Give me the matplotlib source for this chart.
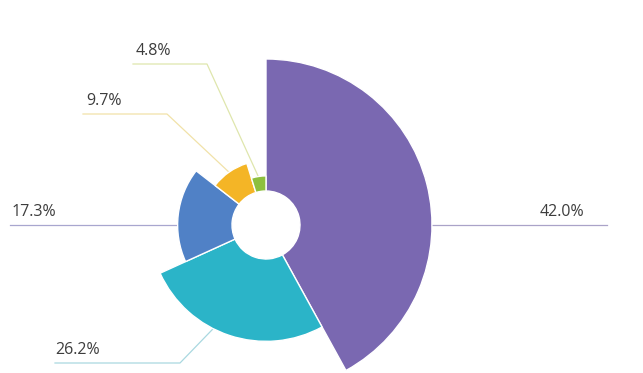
import numpy as np
import matplotlib.pyplot as plt
from matplotlib.patches import Wedge

labels = ['42.0%', '26.2%', '17.3%', '9.7%', '4.8%']
values = [42.0, 26.2, 17.3, 9.7, 4.8]
colors = ['#7a68b1', '#2bb4c8', '#5081c6', '#f4b526', '#8dbf3e']
line_colors = ['#aaa3c8', '#a9d8e0', '#a8a6cf', '#f1e2a8', '#dfe6ad']

W, H = 643, 373
cx, cy = 266, H - 225
hole = 34
k = (166 - hole) / max(values)   # px per percent, radius grows from the hole

# leader layout: attach angle (deg clockwise from 12 o'clock), elbow x,y, end x, text x
attach = [90, 207, 270, 325, 351]
elbow = [None, (180, 363), None, (167, 114), (207, 64)]
end_x = [607, 55, 10, 83, 133]
text_x = [584, 55, 12, 86, 136]

fig = plt.figure(figsize=(W / 100, H / 100), dpi=100)
ax = fig.add_axes([0, 0, 1, 1])
ax.set_xlim(0, W)
ax.set_ylim(0, H)
ax.set_aspect('equal')
ax.axis('off')

start = 0.0
for lab, v, c, lc, a, el, ex, tx in zip(labels, values, colors, line_colors,
                                        attach, elbow, end_x, text_x):
    span = v / 100 * 360
    r = hole + k * v
    t1 = 90 - start - span
    t2 = 90 - start
    ax.add_patch(Wedge((cx, cy), r, t1, t2, width=r - hole, facecolor=c,
                       edgecolor='white', linewidth=1.0))
    # leader line
    th = np.radians(90 - a)
    px, py = cx + r * np.cos(th), cy + r * np.sin(th)
    if el is None:
        xs, ys = [px, ex], [py, py]
        ty = py
    else:
        xs, ys = [px, el[0], ex], [py, H - el[1], H - el[1]]
        ty = H - el[1]
    ax.plot(xs, ys, color=lc, linewidth=0.9, zorder=0)
    ha = 'right' if ex > cx else 'left'
    ax.text(tx, ty + 5, lab, ha=ha, va='bottom', fontsize=11.5,
            family='Open Sans', color='#3d3d3d')
    start += span

fig.savefig('out.png', dpi=100, facecolor='white')
